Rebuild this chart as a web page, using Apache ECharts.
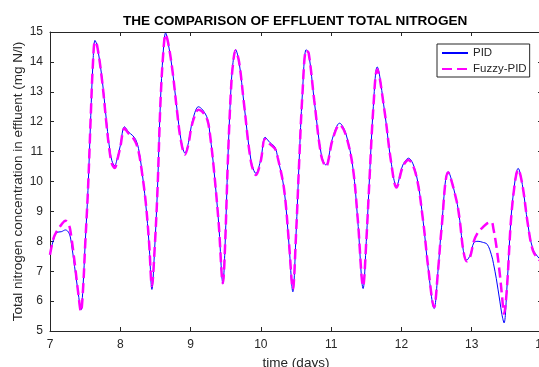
<!DOCTYPE html>
<html>
<head>
<meta charset="utf-8">
<script src="https://cdn.jsdelivr.net/npm/echarts@6/dist/echarts.min.js"></script>
<style>
html,body{margin:0;padding:0;background:#fff;}
#chart{width:539px;height:367px;}
</style>
</head>
<body>
<div id="chart"></div>
<script>
var days = [7.00,7.05,7.10,7.16,7.22,7.27,7.30,7.35,7.40,7.44,7.47,7.50,7.54,7.58,7.61,7.64,7.67,7.74,7.80,7.84,7.88,7.92,7.96,8.00,8.06,8.12,8.17,8.22,8.26,8.30,8.36,8.41,8.45,8.49,8.53,8.57,8.61,8.645,8.68,8.74,8.81,8.86,8.92,8.97,9.01,9.06,9.11,9.17,9.24,9.28,9.33,9.40,9.46,9.49,9.53,9.57,9.60,9.64,9.69,9.76,9.86,9.93,10.00,10.06,10.13,10.20,10.24,10.33,10.40,10.455,10.50,10.545,10.59,10.645,10.68,10.76,10.86,10.925,11.02,11.12,11.21,11.31,11.38,11.455,11.50,11.545,11.60,11.655,11.76,11.85,11.93,12.02,12.10,12.21,12.31,12.38,12.465,12.52,12.57,12.665,12.78,12.83,12.88,12.93,12.98,13.03,13.09,13.15,13.22,13.28,13.31,13.35,13.40,13.43,13.46,13.50,13.56,13.62,13.66,13.72,13.80,13.87,13.96,14.00];

var pid = [7.55,8.05,8.30,8.32,8.38,8.28,8.0,7.15,6.3,5.70,6.5,7.9,9.7,12.2,13.9,14.72,14.55,13.45,12.1,11.25,10.7,10.53,10.8,11.2,11.83,11.65,11.55,11.4,11.1,10.5,9.3,7.9,6.39,7.8,9.8,12.6,14.3,14.97,14.65,13.75,12.35,11.45,10.95,11.3,11.85,12.3,12.5,12.4,12.1,11.5,10.45,8.6,6.59,7.8,10.7,12.9,13.9,14.41,14.0,12.6,10.7,10.27,10.75,11.48,11.3,11.15,10.8,9.75,7.9,6.31,8.2,10.7,12.9,14.41,14.3,12.7,10.9,10.55,11.45,11.95,11.6,10.45,8.65,6.42,8.0,10.1,12.5,13.83,12.35,10.7,9.85,10.55,10.78,10.25,8.65,7.1,5.75,7.0,8.45,10.33,9.4,8.7,7.7,7.37,7.55,7.95,8.0,7.97,7.9,7.55,7.25,6.75,6.0,5.55,5.27,6.4,8.8,10.1,10.44,9.9,8.55,7.75,7.43,7.4];

var fuzzy = [7.55,8.1,8.35,8.55,8.69,8.55,8.2,7.3,6.3,5.65,6.4,7.85,9.7,12.2,13.9,14.68,14.55,13.4,12.0,11.15,10.6,10.45,10.75,11.15,11.78,11.6,11.5,11.3,11.0,10.45,9.35,7.95,6.5,7.8,9.75,12.55,14.25,14.92,14.65,13.75,12.3,11.4,10.9,11.25,11.8,12.2,12.4,12.33,12.05,11.5,10.45,8.6,6.6,7.8,10.65,12.85,13.85,14.38,14.0,12.6,10.65,10.22,10.7,11.42,11.25,11.1,10.8,9.75,7.95,6.4,8.2,10.65,12.85,14.38,14.3,12.7,10.85,10.5,11.4,11.9,11.55,10.45,8.7,6.5,8.0,10.05,12.45,13.75,12.35,10.7,9.8,10.5,10.72,10.2,8.65,7.15,5.8,7.0,8.4,10.3,9.4,8.7,7.7,7.33,7.5,8.0,8.3,8.45,8.6,8.65,8.4,7.85,6.9,6.2,5.58,6.4,8.75,10.05,10.4,9.9,8.55,7.7,7.38,7.35];

var xTicks = [7,8,9,10,11,12,13,14];
var yTicks = [5,6,7,8,9,10,11,12,13,14,15];
var seriesNames = ['PID','Fuzzy-PID'];
var titleText = 'THE COMPARISON OF EFFLUENT TOTAL NITROGEN';
var xName = 'time (days)';
var yName = 'Total nitrogen concentration in effluent (mg N/l)';

function pairs(vals){ return days.map(function(d,i){ return [d, vals[i]]; }); }

var axisColor = '#262626';
var font = 'Liberation Sans, Arial, sans-serif';
var chart = echarts.init(document.getElementById('chart'), null, {renderer:'canvas'});
var xMin = xTicks[0], xMax = xTicks[xTicks.length-1];
var yMin = yTicks[0], yMax = yTicks[yTicks.length-1];
function tickAxis(pos, isX, showLabel){
  return {
    type:'value', position: pos, min: isX?xMin:yMin, max: isX?xMax:yMax, interval:1,
    axisLine:{show:true, onZero:false, lineStyle:{color:axisColor, width:1}},
    axisTick:{show:true, inside:true, length:4, lineStyle:{color:axisColor}},
    splitLine:{show:false},
    axisLabel:{show:showLabel, color:axisColor, fontFamily:font, fontSize:12, margin: isX?8:7}
  };
}
var xb = tickAxis('bottom', true, true);
xb.name = xName; xb.nameLocation='middle'; xb.nameGap=25; xb.nameMoveOverlap=false;
xb.nameTextStyle = {color:axisColor, fontFamily:font, fontSize:13.5};
var xt = tickAxis('top', true, false);
var yl = tickAxis('left', false, true);
yl.name = yName; yl.nameLocation='middle'; yl.nameGap=25; yl.nameRotate=90; yl.nameMoveOverlap=false;
yl.nameTextStyle = {color:axisColor, fontFamily:font, fontSize:13.5};
var yr = tickAxis('right', false, false);

chart.setOption({
  animation:false,
  backgroundColor:'#ffffff',
  title:{text:titleText, left:123, top:14, padding:0,
    textStyle:{fontFamily:font, fontSize:13.6, fontWeight:'bold', color:'#000'}},
  grid:{left:50, top:32, width:492, height:299, containLabel:false, outerBoundsMode:'none'},
  legend:{
    data: seriesNames, orient:'vertical', left:437, top:44,
    padding:[3,3,2,4], itemGap:4, itemWidth:26, itemHeight:12,
    backgroundColor:'#fff', borderColor:axisColor, borderWidth:1, borderRadius:0,
    itemStyle:{opacity:0},
    textStyle:{fontFamily:font, fontSize:11.5, color:axisColor}
  },
  xAxis:[xb, xt],
  yAxis:[yl, yr],
  series:[
    {name:seriesNames[0], type:'line', data:pairs(pid), xAxisIndex:0, yAxisIndex:0,
     symbol:'none', smooth:0.35, lineStyle:{color:'#0000ff', width:1}, itemStyle:{color:'#0000ff'}},
    {name:seriesNames[1], type:'line', data:pairs(fuzzy), xAxisIndex:0, yAxisIndex:0,
     symbol:'none', smooth:0.35, lineStyle:{color:'#ff00ff', width:2.5, type:[10,5]}, itemStyle:{color:'#ff00ff'}}
  ]
});
</script>
</body>
</html>
